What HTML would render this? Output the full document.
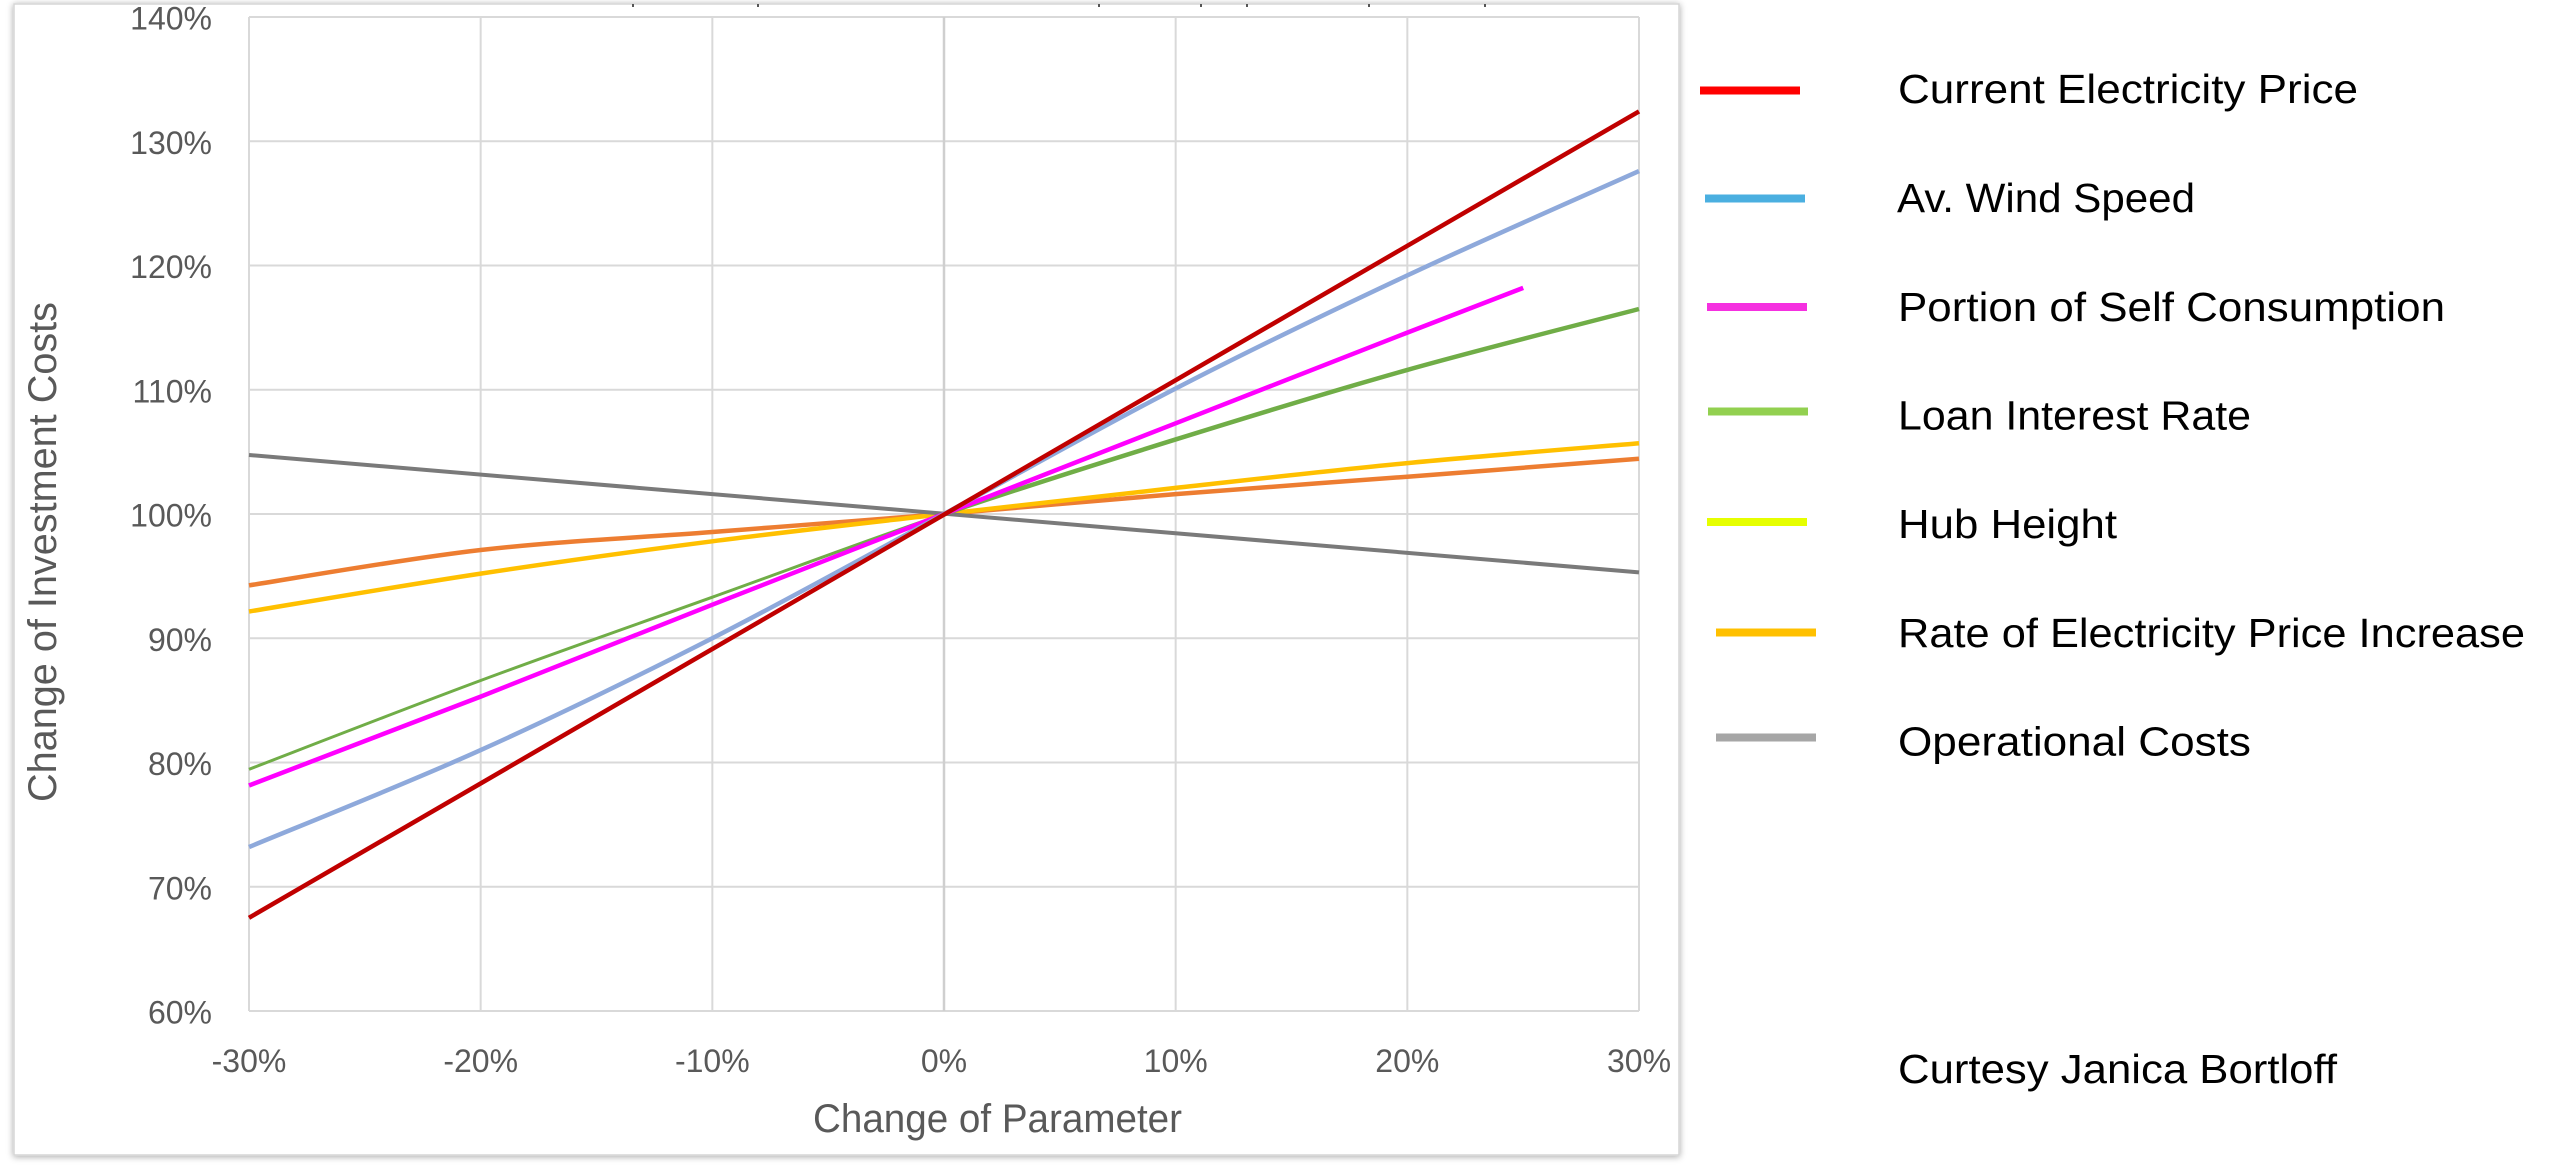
<!DOCTYPE html>
<html>
<head>
<meta charset="utf-8">
<style>
  html, body { margin:0; padding:0; background:#ffffff; }
  body { width:2560px; height:1168px; overflow:hidden; }
  svg { display:block; }
  .tick { font-family:"Liberation Sans", Arial, sans-serif; font-size:32px; fill:#595959; }
  .atitle { font-family:"Liberation Sans", Arial, sans-serif; font-size:40px; fill:#595959; }
  .leg { font-family:"Liberation Sans", Arial, sans-serif; font-size:41px; fill:#000000; }
</style>
</head>
<body>
<svg width="2560" height="1168" viewBox="0 0 2560 1168" xmlns="http://www.w3.org/2000/svg">
  <defs>
    <filter id="sh" x="-5%" y="-5%" width="110%" height="110%">
      <feDropShadow dx="0" dy="1" stdDeviation="3.5" flood-color="#000" flood-opacity="0.35"/>
    </filter>
  </defs>
  <rect x="0" y="0" width="2560" height="1168" fill="#ffffff"/>

  <!-- chart frame -->
  <rect x="14" y="4" width="1665" height="1151" fill="#ffffff" stroke="#d6d6d6" stroke-width="1.5" filter="url(#sh)"/>

  <!-- cut-off title remnants -->
  <g fill="#555">
    <rect x="632" y="4" width="2" height="3"/>
    <rect x="757" y="4" width="2" height="3"/>
    <rect x="1098" y="4" width="2" height="3"/>
    <rect x="1200" y="4" width="2" height="3"/>
    <rect x="1246" y="4" width="2" height="3"/>
    <rect x="1368" y="4" width="2" height="3"/>
    <rect x="1484" y="4" width="2" height="3"/>
  </g>

  <!-- gridlines -->
  <g stroke="#d9d9d9" stroke-width="2" fill="none">
    <line x1="249" y1="17" x2="1639" y2="17"/>
    <line x1="249" y1="141.25" x2="1639" y2="141.25"/>
    <line x1="249" y1="265.5" x2="1639" y2="265.5"/>
    <line x1="249" y1="389.75" x2="1639" y2="389.75"/>
    <line x1="249" y1="514" x2="1639" y2="514"/>
    <line x1="249" y1="638.25" x2="1639" y2="638.25"/>
    <line x1="249" y1="762.5" x2="1639" y2="762.5"/>
    <line x1="249" y1="886.75" x2="1639" y2="886.75"/>
    <line x1="249" y1="1011" x2="1639" y2="1011"/>
    <line x1="249" y1="17" x2="249" y2="1011"/>
    <line x1="480.67" y1="17" x2="480.67" y2="1011"/>
    <line x1="712.33" y1="17" x2="712.33" y2="1011"/>
    <line x1="1175.67" y1="17" x2="1175.67" y2="1011"/>
    <line x1="1407.33" y1="17" x2="1407.33" y2="1011"/>
    <line x1="1639" y1="17" x2="1639" y2="1011"/>
  </g>
  <line x1="944" y1="17" x2="944" y2="1011" stroke="#cfcfcf" stroke-width="2.5"/>

  <!-- y tick labels -->
  <g class="tick" text-anchor="end">
    <text x="212" y="29.5">140%</text>
    <text x="212" y="153.75">130%</text>
    <text x="212" y="278">120%</text>
    <text x="212" y="402.25">110%</text>
    <text x="212" y="526.5">100%</text>
    <text x="212" y="650.75">90%</text>
    <text x="212" y="775">80%</text>
    <text x="212" y="899.25">70%</text>
    <text x="212" y="1023.5">60%</text>
  </g>

  <!-- x tick labels -->
  <g class="tick" text-anchor="middle">
    <text x="249" y="1072">-30%</text>
    <text x="480.67" y="1072">-20%</text>
    <text x="712.33" y="1072">-10%</text>
    <text x="944" y="1072">0%</text>
    <text x="1175.67" y="1072">10%</text>
    <text x="1407.33" y="1072">20%</text>
    <text x="1639" y="1072">30%</text>
  </g>

  <!-- axis titles -->
  <text class="atitle" x="813" y="1132" textLength="369" lengthAdjust="spacingAndGlyphs">Change of Parameter</text>
  <text class="atitle" transform="translate(56,802) rotate(-90)" x="0" y="0" textLength="500" lengthAdjust="spacingAndGlyphs">Change of Investment Costs</text>

  <!-- series -->
  <g fill="none" stroke-linecap="butt" stroke-linejoin="round">
    <!-- orange -->
    <path d="M249,585.4 C287.61,579.5 403.45,558.9 480.67,550 C557.89,541.1 635.11,538 712.33,532 C789.55,526 866.78,520.32 944,514 C1021.22,507.68 1098.45,500.32 1175.67,494.1 C1252.89,487.88 1330.11,482.6 1407.33,476.7 C1484.55,470.8 1600.39,461.7 1639,458.7" stroke="#ED7D31" stroke-width="4.5"/>
    <!-- yellow/gold -->
    <path d="M249,611.5 C287.61,605.18 403.45,585.3 480.67,573.6 C557.89,561.9 635.11,551.23 712.33,541.3 C789.55,531.37 866.78,522.9 944,514 C1021.22,505.1 1098.45,496.38 1175.67,487.9 C1252.89,479.42 1330.11,470.55 1407.33,463.1 C1484.55,455.65 1600.39,446.52 1639,443.2" stroke="#FFC000" stroke-width="4.5"/>
    <!-- gray -->
    <line x1="249" y1="455" x2="1639" y2="572.4" stroke="#7A7A7A" stroke-width="4"/>
    <!-- green -->
    <path d="M249,769.3 C287.61,754.5 403.45,709.18 480.67,680.5 C557.89,651.82 635.11,624.95 712.33,597.2 C789.55,569.45 866.78,540.29 944,514" stroke="#70AD47" stroke-width="3"/>
    <path d="M944,514 C1021.22,487.71 1098.45,463.47 1175.67,439.45 C1252.89,415.43 1330.11,391.64 1407.33,369.9 C1484.55,348.16 1600.39,319.15 1639,309" stroke="#70AD47" stroke-width="4.5"/>
    <!-- magenta -->
    <polyline points="249,785.5 480.67,696.6 712.33,604.7 944,514 1175.67,423.3 1407.33,332.6 1523.2,287.9" stroke="#FF00FF" stroke-width="4.5"/>
    <!-- blue -->
    <path d="M249,847 C287.61,830.85 403.45,784.89 480.67,750.1 C557.89,715.31 635.11,677.6 712.33,638.25 C789.55,598.9 866.78,555.63 944,514 C1021.22,472.38 1098.45,428.27 1175.67,388.5 C1252.89,348.73 1330.11,311.63 1407.33,275.4 C1484.55,239.17 1600.39,188.48 1639,171.1" stroke="#8EA9DB" stroke-width="4.5"/>
    <!-- red -->
    <line x1="249" y1="917.8" x2="1639" y2="111.4" stroke="#C00000" stroke-width="4.5"/>
  </g>

  <!-- legend swatches -->
  <rect x="1700" y="86.5" width="100" height="8" fill="#FF0000"/>
  <rect x="1705" y="194.5" width="100" height="8" fill="#4AAFE0"/>
  <rect x="1707" y="303" width="100" height="8" fill="#F530E0"/>
  <rect x="1708" y="407.5" width="100" height="8" fill="#92D050"/>
  <rect x="1707" y="518" width="100" height="8" fill="#E6FF00"/>
  <rect x="1716" y="628.5" width="100" height="8" fill="#FFC000"/>
  <rect x="1716" y="733.5" width="100" height="8" fill="#A6A6A6"/>

  <!-- legend text -->
  <g class="leg">
    <text x="1898" y="103" textLength="460" lengthAdjust="spacingAndGlyphs">Current Electricity Price</text>
    <text x="1897" y="212" textLength="298" lengthAdjust="spacingAndGlyphs">Av. Wind Speed</text>
    <text x="1898" y="321" textLength="547" lengthAdjust="spacingAndGlyphs">Portion of Self Consumption</text>
    <text x="1898" y="429.5" textLength="353" lengthAdjust="spacingAndGlyphs">Loan Interest Rate</text>
    <text x="1898" y="538" textLength="219" lengthAdjust="spacingAndGlyphs">Hub Height</text>
    <text x="1898" y="647" textLength="627" lengthAdjust="spacingAndGlyphs">Rate of Electricity Price Increase</text>
    <text x="1898" y="755.5" textLength="353" lengthAdjust="spacingAndGlyphs">Operational Costs</text>
    <text x="1898" y="1083" textLength="439" lengthAdjust="spacingAndGlyphs">Curtesy Janica Bortloff</text>
  </g>
</svg>
</body>
</html>
